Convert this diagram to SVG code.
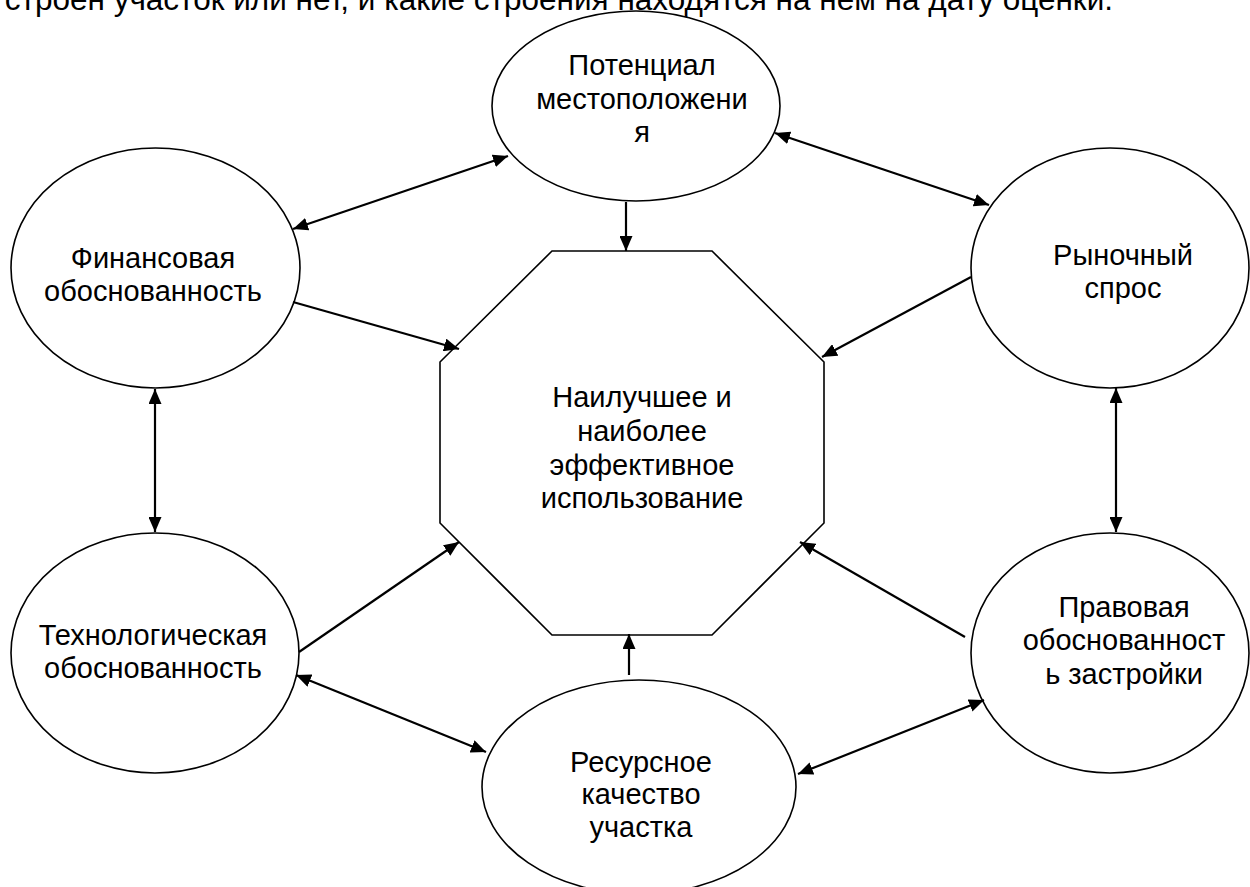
<svg xmlns="http://www.w3.org/2000/svg" width="1250" height="887" viewBox="0 0 1250 887">
<style>
.node{fill:#fff;stroke:#000;stroke-width:1.6}
.lbl{font-family:"Liberation Sans",Arial,sans-serif;font-size:29px;fill:#000;text-anchor:middle}
.con line{stroke:#000;stroke-width:2.2;fill:none}
</style>
<defs>
<marker id="ah" markerUnits="userSpaceOnUse" markerWidth="16" markerHeight="13" refX="15" refY="6.5" orient="auto-start-reverse">
<path d="M0,0 L15,6.5 L0,13 z" fill="#000"/>
</marker>
</defs>
<rect width="1250" height="887" fill="#fff"/>
<text x="1113" y="10" font-family="Liberation Sans, Arial, sans-serif" font-size="31.5" text-anchor="end">строен участок или нет, и какие строения находятся на нем на дату оценки.</text>

<g id="center">
<polygon class="node" points="552,251 712,251 824,362 824,523 712,635 552,635 440,523 440,362"/>
<text class="lbl"><tspan x="642" y="407">Наилучшее и</tspan><tspan x="642" y="441">наиболее</tspan><tspan x="642" y="475">эффективное</tspan><tspan x="642" y="508">использование</tspan></text>
</g>
<g id="location">
<ellipse class="node" cx="636" cy="106" rx="144" ry="95"/>
<text class="lbl"><tspan x="642" y="75">Потенциал</tspan><tspan x="642" y="109">местоположени</tspan><tspan x="642" y="142">я</tspan></text>
</g>
<g id="financial">
<ellipse class="node" cx="155.5" cy="268" rx="144.5" ry="120"/>
<text class="lbl"><tspan x="153" y="268">Финансовая</tspan><tspan x="153" y="301">обоснованность</tspan></text>
</g>
<g id="market">
<ellipse class="node" cx="1110" cy="268" rx="139" ry="120"/>
<text class="lbl"><tspan x="1123" y="265">Рыночный</tspan><tspan x="1123" y="298">спрос</tspan></text>
</g>
<g id="technological">
<ellipse class="node" cx="155" cy="653" rx="144" ry="120"/>
<text class="lbl"><tspan x="153" y="645">Технологическая</tspan><tspan x="153" y="678">обоснованность</tspan></text>
</g>
<g id="legal">
<ellipse class="node" cx="1110" cy="653" rx="139" ry="120"/>
<text class="lbl"><tspan x="1124" y="617">Правовая</tspan><tspan x="1124" y="650">обоснованност</tspan><tspan x="1124" y="684">ь застройки</tspan></text>
</g>
<g id="resource">
<ellipse class="node" cx="639" cy="787" rx="157" ry="107"/>
<text class="lbl"><tspan x="641" y="772">Ресурсное</tspan><tspan x="641" y="804">качество</tspan><tspan x="641" y="837">участка</tspan></text>
</g>

<g id="connectors" class="con">
<line x1="626" y1="202" x2="626" y2="251" marker-end="url(#ah)"/>
<line x1="293" y1="229" x2="508" y2="156" marker-start="url(#ah)" marker-end="url(#ah)"/>
<line x1="775" y1="133" x2="989" y2="205" marker-start="url(#ah)" marker-end="url(#ah)"/>
<line x1="293" y1="302" x2="459" y2="349" marker-end="url(#ah)"/>
<line x1="971" y1="277" x2="822" y2="357" marker-end="url(#ah)"/>
<line x1="155" y1="389" x2="155" y2="532" marker-start="url(#ah)" marker-end="url(#ah)"/>
<line x1="1116" y1="388" x2="1116" y2="532" marker-start="url(#ah)" marker-end="url(#ah)"/>
<line x1="299" y1="652" x2="459" y2="542" marker-end="url(#ah)"/>
<line x1="965" y1="637" x2="800" y2="542" marker-end="url(#ah)"/>
<line x1="629" y1="675" x2="629" y2="634" marker-end="url(#ah)"/>
<line x1="296" y1="675" x2="486" y2="752" marker-start="url(#ah)" marker-end="url(#ah)"/>
<line x1="798" y1="774" x2="984" y2="700" marker-start="url(#ah)" marker-end="url(#ah)"/>
</g>
</svg>
